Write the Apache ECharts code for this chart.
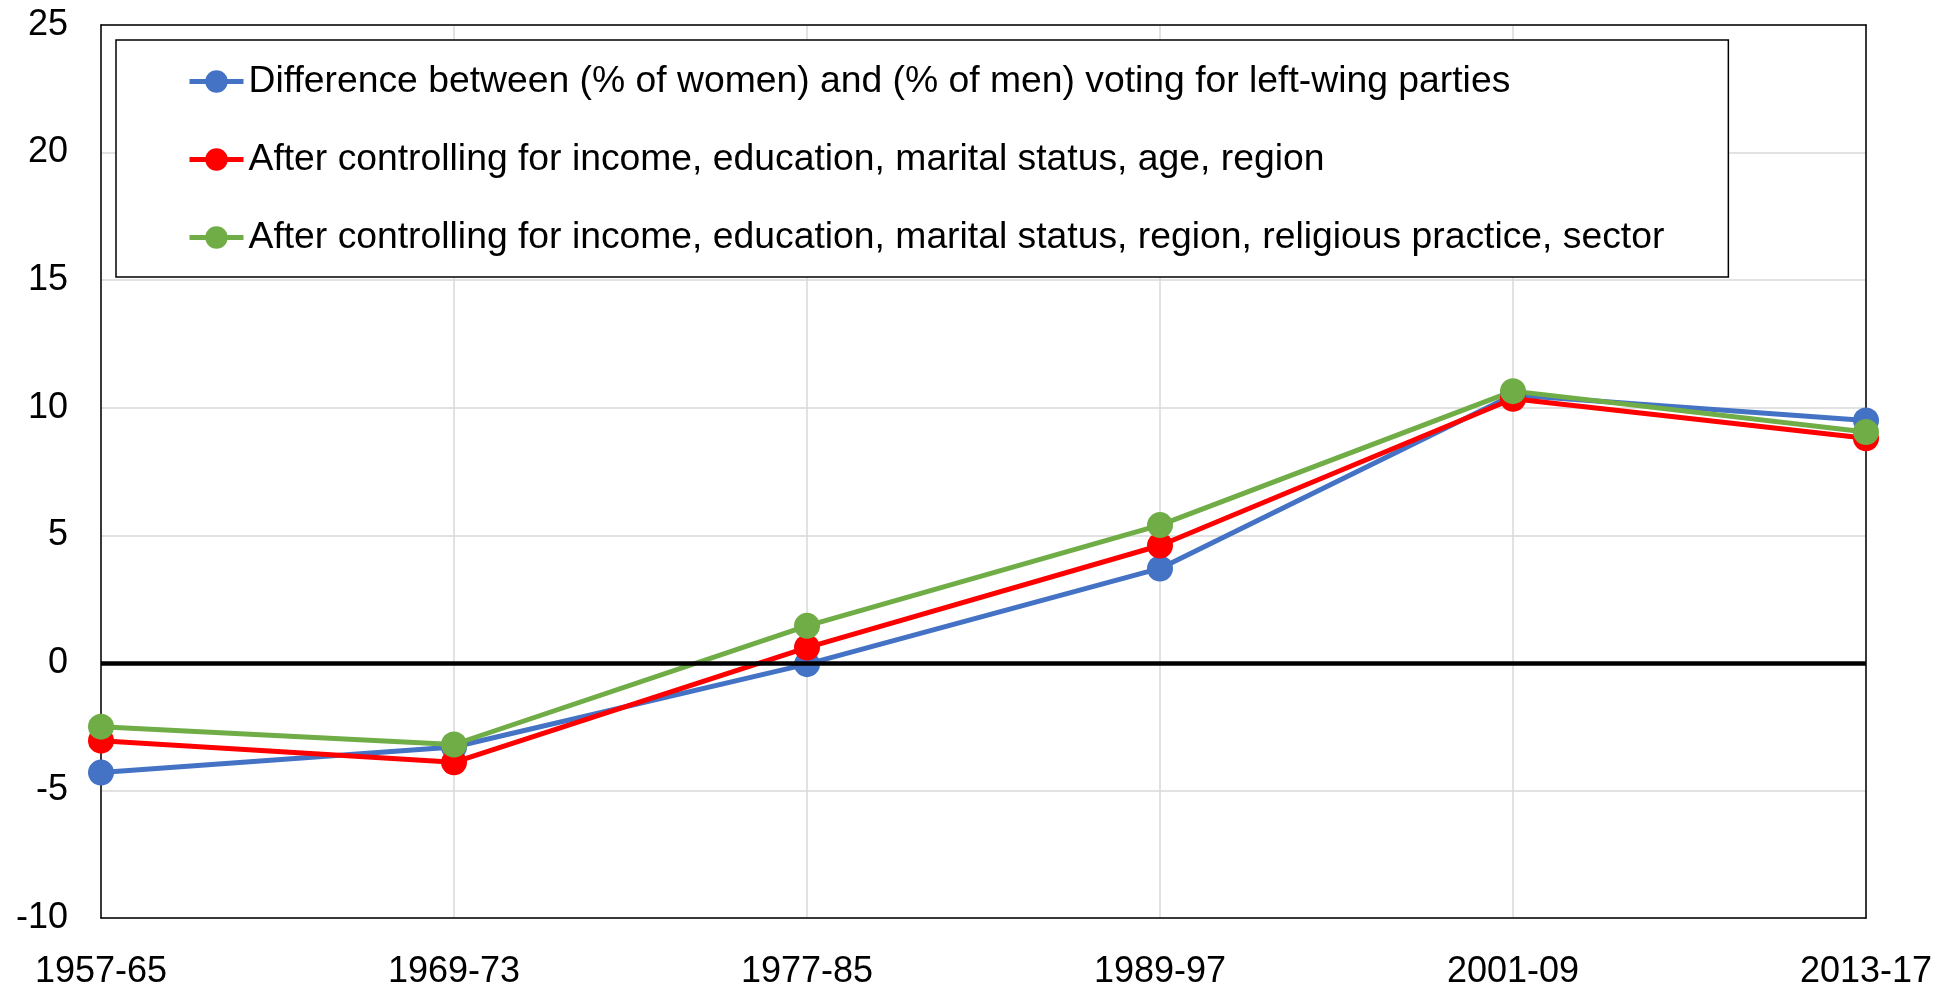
<!DOCTYPE html>
<html>
<head>
<meta charset="utf-8">
<script src="https://cdn.jsdelivr.net/npm/echarts@6/dist/echarts.min.js"></script>
<style>
  html, body { margin: 0; padding: 0; background: #fff; }
  #main { width: 1957px; height: 992px; }
</style>
</head>
<body>
<div id="main"></div>
<script>
// periods on the x axis
var periods = ['1957-65', '1969-73', '1977-85', '1989-97', '2001-09', '2013-17'];

// series names (legend)
var nameRaw = 'Difference between (% of women) and (% of men) voting for left-wing parties';
var nameCtrl1 = 'After controlling for income, education, marital status, age, region';
var nameCtrl2 = 'After controlling for income, education, marital status, region, religious practice, sector';

// values
var rawGap = [-4.3, -3.3, -0.05, 3.7, 10.5, 9.5];
var ctrl1Gap = [-3.05, -3.9, 0.6, 4.6, 10.35, 8.8];
var ctrl2Gap = [-2.5, -3.2, 1.45, 5.4, 10.65, 9.05];

var font = 'Arial, "Liberation Sans", sans-serif';

function lineSeries(name, data, color) {
  return {
    name: name,
    type: 'line',
    data: data,
    z: 3,
    symbol: 'circle',
    symbolSize: 26,
    itemStyle: { color: color },
    lineStyle: { color: color, width: 5 },
    emphasis: { disabled: true }
  };
}

var chart = echarts.init(document.getElementById('main'));
var option = {
  animation: false,
  backgroundColor: '#fff',
  textStyle: { fontFamily: font },
  grid: {
    left: 101, right: 91, top: 25, bottom: 74
  },
  legend: {
    data: [nameRaw, nameCtrl1, nameCtrl2],
    orient: 'vertical',
    left: 116,
    top: 40,
    padding: [23, 64, 21, 71],
    itemGap: 41,
    itemWidth: 54,
    itemHeight: 28,
    borderColor: '#000',
    borderWidth: 1.5,
    backgroundColor: '#fff',
    lineStyle: { width: 5 },
    textStyle: { fontSize: 37.3, color: '#000', fontFamily: font }
  },
  xAxis: [{
    type: 'category',
    data: periods,
    boundaryGap: false,
    axisLine: { onZero: false, lineStyle: { color: '#000', width: 1.5 } },
    axisTick: { show: false },
    splitLine: { show: true, lineStyle: { color: '#D9D9D9', width: 1.5 } },
    axisLabel: { fontSize: 36, color: '#000', margin: 36, fontFamily: font }
  }, {
    type: 'category',
    data: periods,
    boundaryGap: false,
    position: 'top',
    axisLine: { onZero: false, lineStyle: { color: '#000', width: 1.5 } },
    axisTick: { show: false },
    axisLabel: { show: false },
    splitLine: { show: false }
  }],
  yAxis: [{
    type: 'value',
    min: -10, max: 25, interval: 5,
    axisLine: { show: true, onZero: false, lineStyle: { color: '#000', width: 1.5 } },
    axisTick: { show: false },
    splitLine: { lineStyle: { color: '#D9D9D9', width: 1.5 } },
    axisLabel: { fontSize: 36, color: '#000', margin: 33, fontFamily: font }
  }, {
    type: 'value',
    min: -10, max: 25, interval: 5,
    position: 'right',
    axisLine: { show: true, onZero: false, lineStyle: { color: '#000', width: 1.5 } },
    axisTick: { show: false },
    axisLabel: { show: false },
    splitLine: { show: false }
  }],
  series: [
    {
      name: 'zero',
      type: 'line',
      data: [],
      z: 1,
      markLine: {
        silent: true,
        symbol: 'none',
        label: { show: false },
        lineStyle: { color: '#000', width: 4.5, type: 'solid' },
        data: [{ yAxis: 0 }]
      }
    },
    lineSeries(nameRaw, rawGap, '#4472C4'),
    lineSeries(nameCtrl1, ctrl1Gap, '#FF0000'),
    lineSeries(nameCtrl2, ctrl2Gap, '#70AD47')
  ]
};
chart.setOption(option);
</script>
</body>
</html>
